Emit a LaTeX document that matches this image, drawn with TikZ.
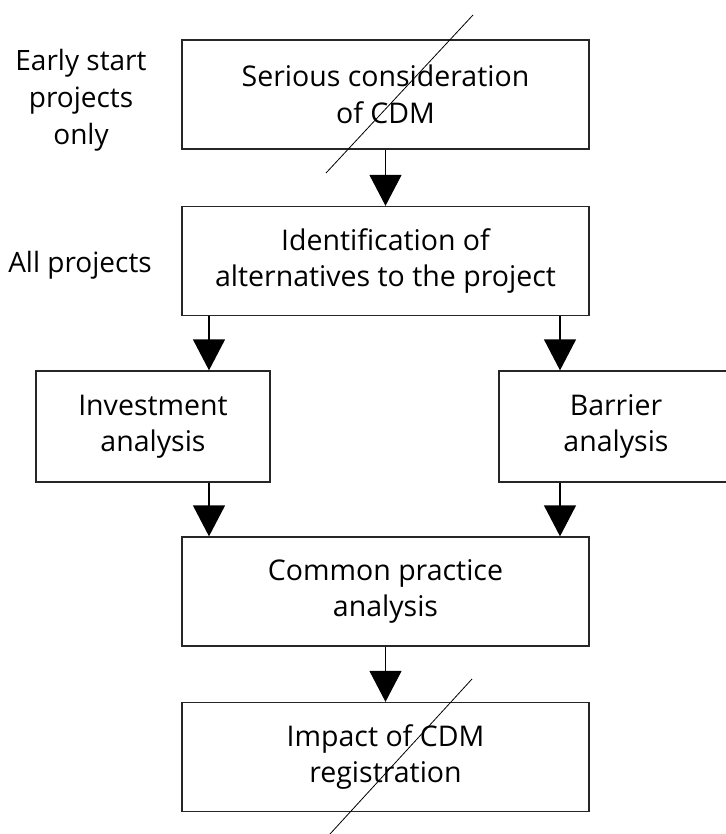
\documentclass[tikz,border=0pt]{standalone}
\usepackage{fontspec}
\setmainfont{Open Sans}
\usetikzlibrary{arrows.meta}
\begin{document}
\begin{tikzpicture}[x=1pt,y=-1pt,
  stepbox/.style={draw=black!85, line width=1.3pt, rectangle, align=center,
    inner sep=0pt, font=\fontsize{28.5}{36.5}\selectfont},
  wide/.style={stepbox, minimum width=407pt, minimum height=109pt},
  narrow/.style={stepbox, minimum width=234pt, minimum height=111pt},
  sidelabel/.style={align=center, font=\fontsize{28}{37}\selectfont},
  flow/.style={line width=1.3pt, -{Triangle[width=32pt,length=31pt]}},
  strike/.style={line width=0.8pt}]
\useasboundingbox (0,0) rectangle (725,834);

% main column of steps
\node[wide] (early) at (385.5,94.5) {Serious consideration\\of CDM};
\node[wide] (alts) at (385.5,261) {Identification of\\alternatives to the project};
\node[narrow] (invest) at (153,426.5) {Investment\\analysis};
\node[narrow] (barrier) at (616,426.5) {Barrier\\analysis};
\node[wide] (common) at (385.5,591.5) {Common practice\\analysis};
\node[wide] (impact) at (385.5,757) {Impact of CDM\\registration};

% labels on the left
\node[sidelabel] (lblearly) at (81,100) {Early start\\projects\\only};
\node[sidelabel] (lblall) at (80,265) {All projects};

% x positions of the side branches
\coordinate (colL) at (209,0);
\coordinate (colR) at (560,0);

% connectors
\draw[flow] (early.south -| alts.north) -- (alts.north);
\draw[flow] (alts.south -| colL) -- (invest.north -| colL);
\draw[flow] (alts.south -| colR) -- (barrier.north -| colR);
\draw[flow] (invest.south -| colL) -- (common.north -| colL);
\draw[flow] (barrier.south -| colR) -- (common.north -| colR);
\draw[flow] (common.south) -- (impact.north);

% strike-through slashes
\coordinate (s1a) at (473,15);
\coordinate (s1b) at (326,173);
\coordinate (s2a) at (472,679);
\coordinate (s2b) at (330,834);
\draw[strike] (s1a) -- (s1b);
\draw[strike] (s2a) -- (s2b);
\end{tikzpicture}
\end{document}
